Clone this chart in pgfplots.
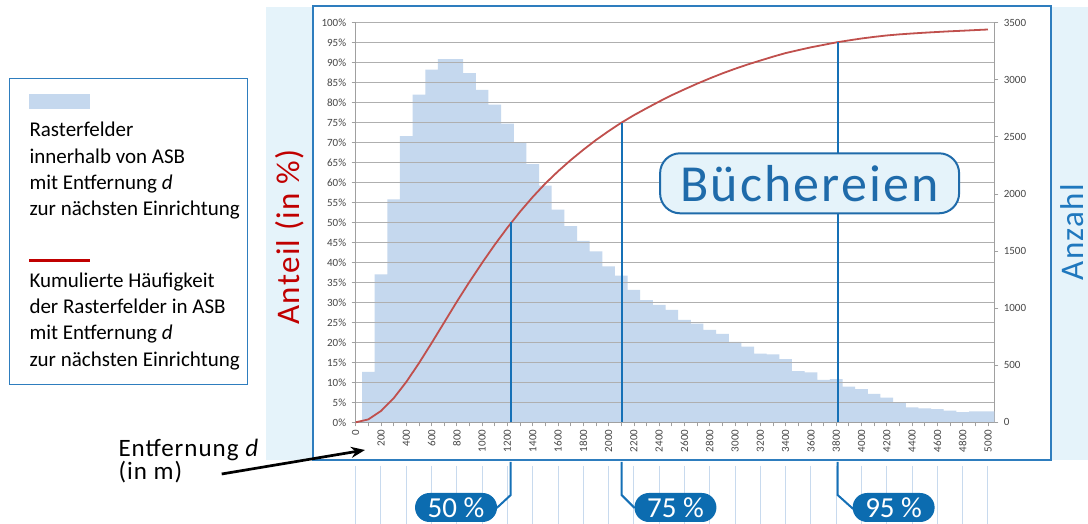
\documentclass[border=0pt]{standalone}
\usepackage{pgfplots}
\pgfplotsset{compat=1.18}
\usepackage{pgfplotstable}
\usetikzlibrary{arrows.meta}
\usepackage{fontspec}
\setmainfont{Carlito}
\newfontfamily\wfont[LetterSpace=4]{Carlito}
\newfontfamily\tfont[LetterSpace=4]{Carlito}

\definecolor{barblue}{RGB}{197,216,238}
\definecolor{curvered}{RGB}{192,80,77}
\definecolor{gridgray}{RGB}{175,175,175}
\definecolor{axisgray}{RGB}{160,160,160}
\definecolor{ticktext}{RGB}{70,70,70}
\definecolor{panelbg}{RGB}{229,243,250}
\definecolor{frameblue}{RGB}{46,125,190}
\definecolor{markblue}{RGB}{21,112,182}
\definecolor{pillblue}{RGB}{12,108,176}
\definecolor{titleblue}{RGB}{31,107,170}
\definecolor{anteilred}{RGB}{192,0,0}
\definecolor{anzahlblue}{RGB}{31,120,190}
\definecolor{lineblue}{RGB}{200,218,238}

\pgfplotstableread{
d n
100 441
200 1295
300 1953
400 2506
500 2870
600 3090
700 3182
800 3182
900 3059
1000 2912
1100 2783
1200 2615
1300 2447
1400 2261
1500 2072
1600 1862
1700 1719
1800 1589
1900 1498
2000 1365
2100 1285
2200 1159
2300 1071
2400 1029
2500 984
2600 896
2700 865
2800 809
2900 774
3000 704
3100 662
3200 602
3300 595
3400 553
3500 448
3600 438
3700 371
3800 378
3900 312
4000 291
4100 249
4200 217
4300 172
4400 130
4500 123
4600 116
4700 102
4800 88
4900 95
5000 95
}\barsdata

\pgfplotstableread{
d p
0 0
100 0.72
200 2.83
300 6.01
400 10.10
500 14.78
600 19.82
700 25.00
800 30.19
900 35.17
1000 39.92
1100 44.46
1200 48.72
1300 52.71
1400 56.39
1500 59.77
1600 62.81
1700 65.61
1800 68.20
1900 70.64
2000 72.87
2100 74.96
2200 76.85
2300 78.59
2400 80.27
2500 81.87
2600 83.33
2700 84.74
2800 86.06
2900 87.32
3000 88.47
3100 89.55
3200 90.53
3300 91.50
3400 92.40
3500 93.13
3600 93.84
3700 94.45
3800 95.07
3900 95.57
4000 96.05
4100 96.45
4200 96.81
4300 97.08
4400 97.30
4500 97.50
4600 97.68
4700 97.85
4800 97.99
4900 98.15
5000 98.30
}\cumdata

\begin{document}
\begin{tikzpicture}[x=1pt,y=1pt]
\useasboundingbox (0,0) rectangle (1088,524);
% panel
\fill[panelbg] (266,64) rectangle (1088,517);
\fill[white] (313,64) rectangle (1051,518);
\draw[frameblue, line width=1.1pt] (313,64) rectangle (1051,518);

% legend box
\draw[frameblue, line width=1pt] (9,139) rectangle (247,445);
\fill[barblue] (29,414.7) rectangle (90,430);
\begin{scope}[every node/.style={anchor=base west, inner sep=0pt, font=\fontsize{21}{21}\selectfont}]
\node at (29.3,387.3) {Rasterfelder};
\node at (29.3,360.8) {innerhalb von ASB};
\node at (29.3,334.4) {mit Entfernung \textit{d}};
\node at (29.3,308.0) {zur nächsten Einrichtung};
\node at (29.3,236.7) {Kumulierte Häufigkeit};
\node at (29.3,210.7) {der Rasterfelder in ASB};
\node at (29.3,184.0) {mit Entfernung \textit{d}};
\node at (29.3,157.3) {zur nächsten Einrichtung};
\end{scope}
\draw[anteilred, line width=2.7pt] (29.3,263.3) -- (90,263.3);

% bars axis (right, counts)
\begin{axis}[
  at={(355.7pt,101.7pt)}, anchor=south west, scale only axis,
  width=638.6pt, height=399.6pt,
  xmin=0, xmax=5050, ymin=0, ymax=3500,
  axis x line=none, xtick=\empty,
  axis y line*=right,
  ytick={0,500,...,3500},
  y axis line style={draw=axisgray, line width=0.8pt, -},
  ytick style={draw=axisgray, line width=0.8pt},
  tick align=outside, major tick length=4pt,
  yticklabel style={font=\fontsize{11}{12}\selectfont, text=ticktext, xshift=2pt},
  /pgf/number format/assume math mode=true,
  /pgf/number format/1000 sep={},
]
\addplot[ybar, bar width=100, bar shift=0pt, fill=barblue, draw=none] table[x=d, y=n] {\barsdata};
\end{axis}

% percent axis (left)
\begin{axis}[
  at={(355.7pt,101.7pt)}, anchor=south west, scale only axis,
  width=638.6pt, height=399.6pt,
  xmin=0, xmax=5050, ymin=0, ymax=100,
  axis x line*=bottom, axis y line*=left,
  xtick={0,200,...,5000}, minor xtick={100,300,...,4900},
  ytick={0,5,...,100},
  yticklabel={\pgfmathprintnumber{\tick}\%},
  ymajorgrids, grid style={draw=gridgray, line width=0.8pt},
  x axis line style={draw=axisgray, line width=0.8pt, -},
  y axis line style={draw=axisgray, line width=0.8pt, -},
  tick style={draw=axisgray, line width=0.8pt},
  tick align=outside, major tick length=4pt, minor tick length=4pt,
  xticklabel style={rotate=90, anchor=east, font=\fontsize{11}{12}\selectfont, text=ticktext},
  yticklabel style={font=\fontsize{11}{12}\selectfont, text=ticktext, xshift=-2pt},
  /pgf/number format/assume math mode=true,
  /pgf/number format/1000 sep={},
  clip=false,
]
\addplot[curvered, line width=1.8pt] table[x=d, y=p] {\cumdata};
\addplot[markblue, line width=2.2pt] coordinates {(1226,0) (1226,50.1)};
\addplot[markblue, line width=2.2pt] coordinates {(2103,0) (2103,75.0)};
\addplot[markblue, line width=2.2pt] coordinates {(3811,0) (3811,95.1)};
\pgfplotsinvokeforeach{0,200,...,5000}{
  \draw[lineblue, line width=1pt] (axis cs:#1,0) ++(0,-43.7pt) -- ++(0,-60pt);
}
\draw[markblue, line width=2pt] (axis cs:1226,0) ++(0,-39.7pt) -- ++(0,-33pt) -- ++(-14pt,-13pt);
\draw[markblue, line width=2pt] (axis cs:2103,0) ++(0,-39.7pt) -- ++(0,-33pt) -- ++(13pt,-13pt);
\draw[markblue, line width=2pt] (axis cs:3811,0) ++(0,-39.7pt) -- ++(0,-33pt) -- ++(15.6pt,-14pt);
\path (axis cs:1226,0) ++(-54.7pt,-85.2pt) node[fill=pillblue, rounded corners=14.5pt, minimum width=82pt, minimum height=29pt, inner sep=0pt, text=white, font=\fontsize{29}{29}\selectfont] {50 \%};
\path (axis cs:2103,0) ++(53.8pt,-85.2pt) node[fill=pillblue, rounded corners=14.5pt, minimum width=82pt, minimum height=29pt, inner sep=0pt, text=white, font=\fontsize{29}{29}\selectfont] {75 \%};
\path (axis cs:3811,0) ++(56pt,-85.2pt) node[fill=pillblue, rounded corners=14.5pt, minimum width=82pt, minimum height=29pt, inner sep=0pt, text=white, font=\fontsize{29}{29}\selectfont] {95 \%};
\end{axis}

% titles
\node[rotate=90, text=anteilred, font=\wfont\fontsize{33}{33}\selectfont] at (289.5,287) {Anteil (in \%)};
\node[rotate=90, anchor=south, inner sep=0pt, text depth=0pt, text=anzahlblue, font=\wfont\fontsize{33}{33}\selectfont] at (1084,292) {Anzahl};
\node[draw=titleblue, line width=2pt, fill=panelbg, rounded corners=20pt, minimum width=299pt, minimum height=60pt, inner sep=0pt, text=titleblue, font=\tfont\fontsize{52}{52}\selectfont] at (809.6,340.7) {Büchereien};

% x label with arrow
\node[anchor=base west, inner sep=0pt, font=\wfont\fontsize{25}{25}\selectfont] at (118.3,67.3) {Entfernung \textit{d}};
\node[anchor=base west, inner sep=0pt, font=\wfont\fontsize{25}{25}\selectfont] at (118.3,44) {(in m)};
\draw[-{Stealth[length=14pt,width=11pt]}, line width=2.7pt] (221.7,50) -- (365,74);
\end{tikzpicture}
\end{document}
